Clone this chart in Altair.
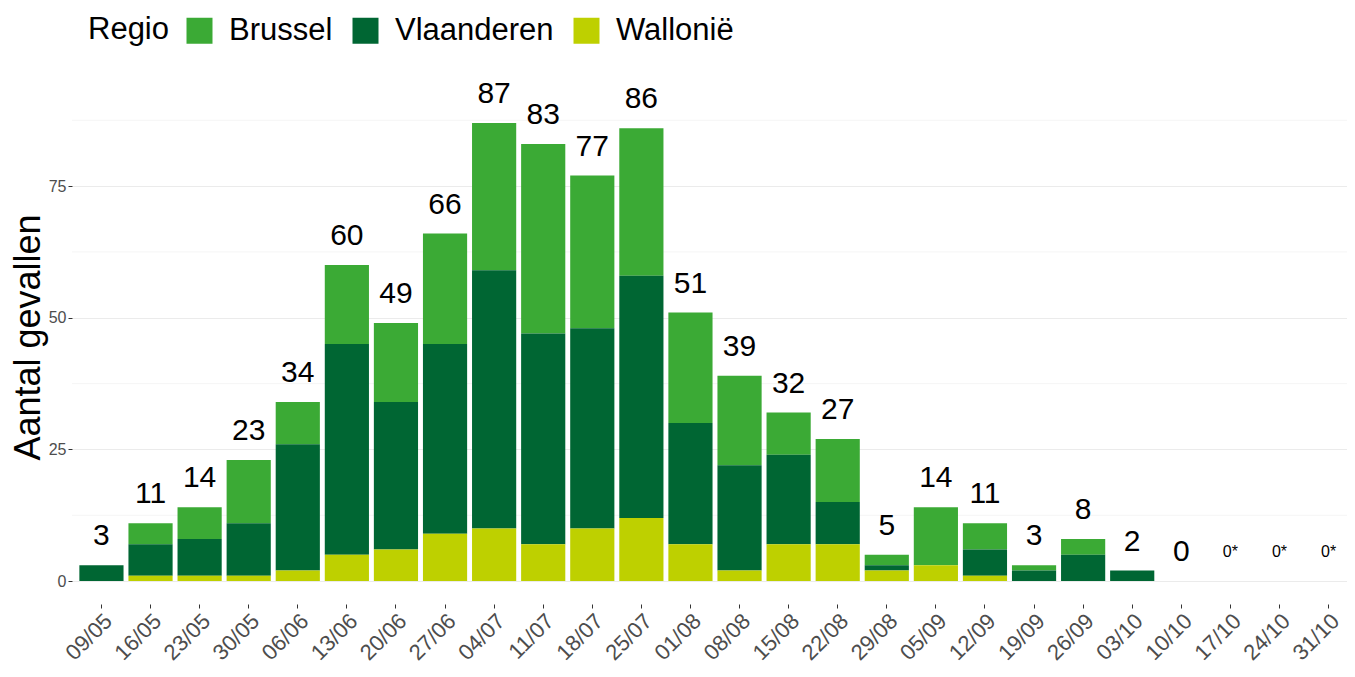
import altair as alt
import pandas as pd

weeks = ["09/05", "16/05", "23/05", "30/05", "06/06", "13/06", "20/06", "27/06",
         "04/07", "11/07", "18/07", "25/07", "01/08", "08/08", "15/08", "22/08",
         "29/08", "05/09", "12/09", "19/09", "26/09", "03/10", "10/10", "17/10",
         "24/10", "31/10"]
brussel = [0, 4, 6, 12, 8, 15, 15, 21, 28, 36, 29, 28, 21, 17, 8, 12, 2, 11, 5, 1, 3, 0, 0, 0, 0, 0]
vlaanderen = [3, 6, 7, 10, 24, 40, 28, 36, 49, 40, 38, 46, 23, 20, 17, 8, 1, 0, 5, 2, 5, 2, 0, 0, 0, 0]
wallonie = [0, 1, 1, 1, 2, 5, 6, 9, 10, 7, 10, 12, 7, 2, 7, 7, 2, 3, 1, 0, 0, 0, 0, 0, 0, 0]
starred = ["17/10", "24/10", "31/10"]

regions = ["Brussel", "Vlaanderen", "Wallonië"]
colors = ["#3BAA35", "#006633", "#BED000"]
stack_order = {"Wallonië": 0, "Vlaanderen": 1, "Brussel": 2}
minor_grid = [12.5, 37.5, 62.5, 87.5]

rows = []
for i, w in enumerate(weeks):
    for reg, vals in zip(regions, [brussel, vlaanderen, wallonie]):
        rows.append({"week": w, "regio": reg, "n": vals[i], "ord": stack_order[reg]})
df = pd.DataFrame(rows)

totals = [b + v + wl for b, v, wl in zip(brussel, vlaanderen, wallonie)]
lab = pd.DataFrame({
    "week": weeks,
    "total": totals,
    "label": [str(t) + ("*" if w in starred else "") for t, w in zip(totals, weeks)],
    "small": [w in starred for w in weeks],
})

FONT = "Liberation Sans"
W, H = 1275, 504

xscale = alt.Scale(domain=weeks, range=[0, 1286], paddingInner=0.1, paddingOuter=0.15)
yscale = alt.Scale(domain=[-4.35, 91.35], nice=False, zero=False)

xaxis = alt.Axis(title=None, labelAngle=-45, labelAlign="right", labelBaseline="top",
                 labelFontSize=22, labelColor="#4d4d4d", labelFont=FONT,
                 ticks=True, tickSize=4, tickColor="#333333", domain=False, grid=False,
                 labelPadding=2)
yaxis = alt.Axis(title="Aantal gevallen", values=[0, 25, 50, 75], grid=True,
                 gridColor="#ebebeb", gridWidth=1.2, domain=False, ticks=True, tickSize=4,
                 tickColor="#333333", labelFontSize=16, labelColor="#4d4d4d", labelFont=FONT,
                 labelPadding=2, titleFontSize=36, titleColor="black", titleFontWeight="normal",
                 titleFont=FONT, titleX=-44, titleY=237, titleAngle=-90, titleAlign="center",
                 titleBaseline="middle")

grid = alt.Chart(pd.DataFrame({"g": minor_grid})).mark_rule(
    color="#f2f2f2", strokeWidth=0.8
).encode(
    y=alt.Y("g:Q", scale=yscale, axis=yaxis),
    x=alt.value(0),
    x2=alt.value(W),
)

bars = alt.Chart(df).mark_bar().encode(
    x=alt.X("week:N", scale=xscale, axis=xaxis, sort=weeks),
    y=alt.Y("n:Q", stack="zero", scale=yscale, axis=yaxis),
    color=alt.Color("regio:N", scale=alt.Scale(domain=regions, range=colors),
                    legend=alt.Legend(orient="none", legendX=16, legendY=-85,
                                      direction="horizontal", title="Regio",
                                      titleOrient="left", titleFontSize=31,
                                      titleFontWeight="normal", titleColor="black",
                                      titleFont=FONT, labelFont=FONT,
                                      labelFontSize=31, labelColor="black",
                                      symbolType="square", symbolSize=676,
                                      symbolStrokeWidth=0, symbolOpacity=1,
                                      labelOffset=14, columnPadding=17,
                                      titlePadding=15, padding=0)),
    order=alt.Order("ord:Q", sort="ascending"),
)

text_big = alt.Chart(lab).transform_filter("!datum.small").mark_text(
    fontSize=30, dy=-20, baseline="alphabetic", font=FONT, color="black"
).encode(
    x=alt.X("week:N", scale=xscale, axis=xaxis, sort=weeks),
    y=alt.Y("total:Q", scale=yscale, axis=yaxis),
    text="label:N",
)

text_small = alt.Chart(lab).transform_filter("datum.small").mark_text(
    fontSize=16, dy=-24, baseline="alphabetic", font=FONT, color="black"
).encode(
    x=alt.X("week:N", scale=xscale, axis=xaxis, sort=weeks),
    y=alt.Y("total:Q", scale=yscale, axis=yaxis),
    text="label:N",
)

chart = alt.layer(grid, bars, text_big, text_small).properties(
    width=W, height=H,
    padding={"left": 64, "top": 92, "right": 0, "bottom": 63},
    autosize=alt.AutoSizeParams(type="none"),
).configure(
    font=FONT,
    view=alt.ViewConfig(stroke=None),
).configure_axisX(labelFontSize=22, labelAngle=-45)

chart.save("out.html", embed_options={"renderer": "svg", "actions": False})
